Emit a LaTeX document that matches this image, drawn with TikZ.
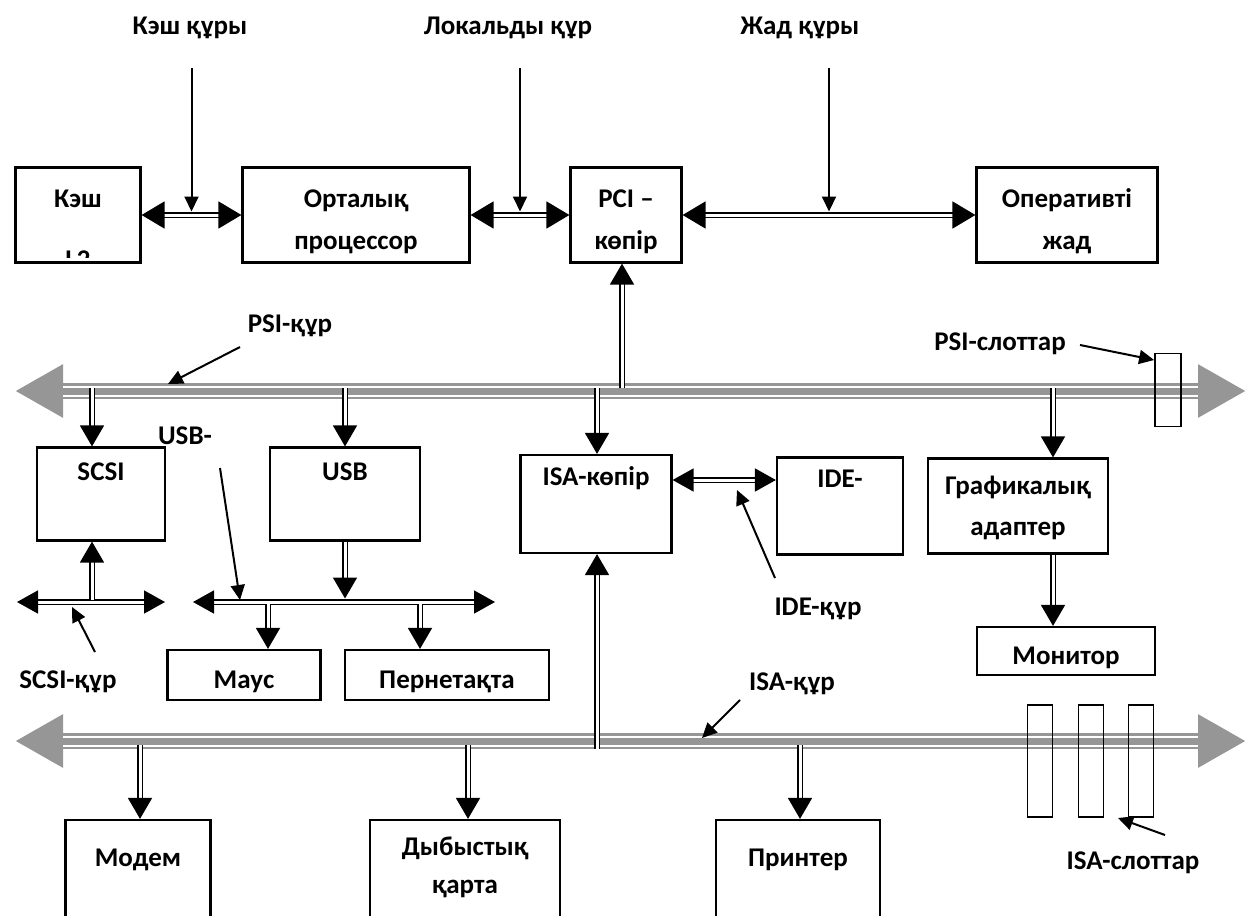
\documentclass[tikz,border=0pt]{standalone}
\usepackage{fontspec}
\setmainfont{Carlito}
\usetikzlibrary{positioning, arrows.meta, calc}
\definecolor{busgray}{HTML}{969696}

\begin{document}
\begin{tikzpicture}[x=1pt, y=-1pt,
        blk/.style={draw, line width=2.2pt, inner sep=0pt},
        txt/.style={font=\fontsize{27}{32}\selectfont\bfseries, anchor=base, inner sep=0pt},
        link/.style={draw=black, line width=1.6pt, double=white, double distance=3pt},
        dn/.style={link, -{Triangle[length=21pt,width=24pt]}},
        lr/.style={link, {Triangle[length=23pt,width=27pt]}-{Triangle[length=23pt,width=27pt]}},
        lrs/.style={link, {Triangle[length=21pt,width=23pt]}-{Triangle[length=21pt,width=23pt]}},
        ptr/.style={line width=2pt, -{Triangle[length=15pt,width=14pt]}},
        bus/.style={draw=busgray, line width=16pt, {Triangle[length=48pt,width=50pt]}-{Triangle[length=48pt,width=50pt]}},
        stripe/.style={draw=white, line width=2pt, double=busgray, double distance=7pt},
        slot/.style={draw, line width=1.8pt}]
        \useasboundingbox (0,0) rectangle (1246,915);
        \clip (0,0) rectangle (1246,915);
        \node[txt] (tcache) at (190,35) {Кэш құры};
        \node[txt] (tlocal) at (508,35) {Локальды құр};
        \node[txt] (tmem)   at (800,35) {Жад құры};
        \node[blk, minimum width=125pt, minimum height=95pt] (cache) at (78,215)   {};
        \node[blk, minimum width=227pt, minimum height=95pt] (cpu)   at (356,215)  {};
        \node[blk, minimum width=111pt, minimum height=95pt] (pci)   at (626,215)  {};
        \node[blk, minimum width=181pt, minimum height=95pt] (ram)   at (1067,215) {};
        \node[blk, minimum width=128pt, minimum height=93pt] (scsi)  at (101,494)  {};
        \node[blk, minimum width=150pt, minimum height=93pt] (usb)   at (345,494)  {};
        \node[blk, minimum width=151pt, minimum height=98pt] (isab)  at (596,504)  {};
        \node[blk, minimum width=126pt, minimum height=97pt] (ide)   at (840,506)  {};
        \node[blk, minimum width=180pt, minimum height=95pt] (gfx)   at (1018,506) {};
        \node[blk, minimum width=178pt, minimum height=48pt] (mon)   at (1066,651) {};
        \node[blk, minimum width=153pt, minimum height=50pt] (mouse) at (244,675)  {};
        \node[blk, minimum width=204pt, minimum height=50pt] (keyb)  at (447,675)  {};
        \node[blk, minimum width=145pt, minimum height=160pt] (modem) at (138,900) {};
        \node[blk, minimum width=190pt, minimum height=160pt] (sound) at (465,900) {};
        \node[blk, minimum width=164pt, minimum height=160pt] (prn)   at (798,900) {};
        \node[txt] (lcache) at (78,207)  {Кэш};
        \begin{scope}
          \clip (16,168) rectangle (139,257);
          \node[txt] (lcache2) at (78,268) {L2};
        \end{scope}
        \node[txt] (lcpu1) at (356,207)  {Орталық};
        \node[txt] (lcpu2) at (356,249)  {процессор};
        \node[txt] (lpci1) at (626,207)  {PCI –};
        \node[txt] (lpci2) at (626,249)  {көпір};
        \node[txt] (lram1) at (1067,207) {Оперативті};
        \node[txt] (lram2) at (1067,249) {жад};
        \node[txt] (lscsi) at (101,480)  {SCSI};
        \node[txt] (lusb)  at (345,480)  {USB};
        \node[txt] (lisab) at (596,485)  {ISA-көпір};
        \node[txt] (lide)  at (840,487)  {IDE-};
        \node[txt] (lgfx1) at (1018,494) {Графикалық};
        \node[txt] (lgfx2) at (1018,535) {адаптер};
        \node[txt] (lmon)  at (1066,664) {Монитор};
        \node[txt] (lmouse) at (244,688) {Маус};
        \node[txt] (lkeyb) at (447,688)  {Пернетақта};
        \node[txt] (lmodem) at (138,866) {Модем};
        \node[txt] (lsnd1) at (465,855)  {Дыбыстық};
        \node[txt] (lsnd2) at (465,893)  {қарта};
        \node[txt] (lprn)  at (798,866)  {Принтер};
        \node[txt] (lpsi)  at (290,332)  {PSI-құр};
        \node[txt] (lpsis) at (1000,350) {PSI-слоттар};
        \node[txt] (lusbb) at (185,444)  {USB-};
        \node[txt] (lscsib) at (68,688)  {SCSI-құр};
        \node[txt] (lideb) at (818,615)  {IDE-құр};
        \node[txt] (lisa)  at (792,690)  {ISA-құр};
        \node[txt] (lisas) at (1133,869) {ISA-слоттар};
        \coordinate (psiL) at (15,391);
        \coordinate (psiR) at (1246,391);
        \coordinate (isaL) at (15,741);
        \coordinate (isaR) at (1246,741);
        \draw[bus] (psiL) -- (psiR);
        \draw[stripe] ($(psiL)+(48,0)$) -- ($(psiR)+(-48,0)$);
        \draw[bus] (isaL) -- (isaR);
        \draw[stripe] ($(isaL)+(48,0)$) -- ($(isaR)+(-48,0)$);
        \node[slot, minimum width=26pt, minimum height=73pt, inner sep=0pt] (psislot) at (1168,390) {};
        \foreach \x [count=\i] in {1040,1091,1141}{
          \node[slot, minimum width=25pt, minimum height=112pt, inner sep=0pt] (isaslot\i) at (\x,761) {};}
        \draw[lr] (cache) -- (cpu);
        \draw[lr] (cpu) -- (pci);
        \draw[lr] (pci) -- (ram);
        \coordinate (kq) at ($(cache.east)!.5!(cpu.west)$);
        \coordinate (lq) at ($(cpu.east)!.5!(pci.west)$);
        \coordinate (jq) at ($(pci.east)!.5!(ram.west)$);
        \foreach \c in {kq,lq,jq}{\draw[ptr] (\c |- 0,68) -- ([yshift=3.5pt]\c);}
        \coordinate (pA) at (622,388);
        \draw[dn] (pA) -- (pA |- pci.south);
        \foreach \x/\b in {92/scsi,345/usb,597/isab,1053/gfx}{
          \draw[dn] (\x,388) -- (\x,0 |- \b.north);}
        \coordinate (sL) at (17,602);
        \coordinate (sR) at (165,602);
        \coordinate (uL) at (193,602);
        \coordinate (uR) at (495,602);
        \draw[lrs] (sL) -- (sR);
        \draw[lrs] (uL) -- (uR);
        \draw[dn] (92,600) -- (92,0 |- scsi.south);
        \draw[dn] (usb.south) -- ([yshift=3.5pt]usb.south |- uL);
        \draw[dn] (268,604) -- (268,0 |- mouse.north);
        \draw[dn] (420,604) -- (420,0 |- keyb.north);
        \draw[lrs] ([yshift=24pt]isab.east) -- ([yshift=24pt]isab.east -| ide.west);
        \draw[dn] ([xshift=35pt]gfx.south) -- ([xshift=35pt]gfx.south |- mon.north);
        \draw[dn] (597,749) -- (597,0 |- isab.south);
        \foreach \x/\b in {140/modem,468/sound,800/prn}{
          \draw[dn] (\x,745) -- (\x,0 |- \b.north);}
        \draw[ptr] (240,347) -- (168,384);
        \draw[ptr] (1080,345) -- (psislot.west |- 0,360);
        \draw[ptr] (220,468) -- (240,600);
        \draw[ptr] (95,652) -- (72,607);
        \draw[ptr] (775,578) -- (737,490);
        \draw[ptr] (740,700) -- (702,738);
        \draw[ptr] (1165,835) -- (1118,818);
      \end{tikzpicture}
\end{document}
